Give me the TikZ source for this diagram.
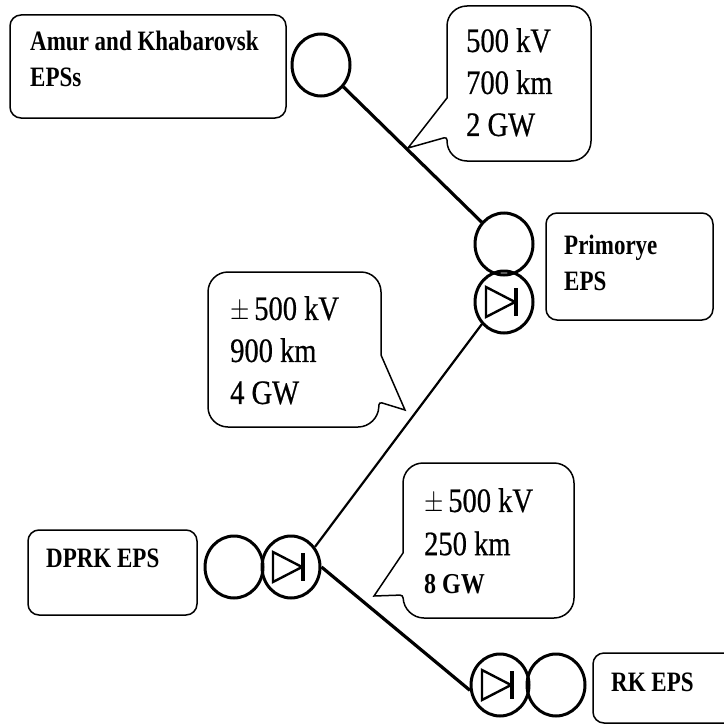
\documentclass[tikz,border=0pt]{standalone}
\usepackage{fontspec}
\setmainfont{Liberation Serif}
\newfontfamily\semibold[FakeBold=0.6]{Liberation Serif}
\usetikzlibrary{shapes.geometric}
\tikzset{
  x=1pt,y=-1pt,
  bus/.style={ellipse,draw,line width=3pt,minimum width=58pt,minimum height=62pt,inner sep=0pt},
  panel/.style={draw,line width=1.5pt,rounded corners=11pt},
  lbl/.style={anchor=north west,align=left,inner sep=0pt,font=\fontsize{23}{29}\selectfont\bfseries,yscale=1.22},
  big/.style={anchor=north west,align=left,inner sep=0pt,font=\fontsize{28.5}{35}\selectfont\semibold,yscale=1.2},
  heavy/.style={line width=3.2pt},
  light/.style={line width=2.2pt},
  diodebody/.style={line width=2.4pt},
  diodebar/.style={line width=3.6pt}
}
\newcommand{\diodeat}[1]{%
  \draw[diodebody] ([shift={(-18pt,15pt)}]#1.center) -- ([shift={(-18pt,-15pt)}]#1.center) -- ([shift={(11pt,0pt)}]#1.center) -- cycle;
  \draw[diodebar] ([shift={(12pt,14pt)}]#1.center) -- ([shift={(12pt,-14pt)}]#1.center);
}
\begin{document}
\begin{tikzpicture}
\useasboundingbox[fill=white] (0,0) rectangle (723,725);

% plain panels
\draw[panel] (10,15) rectangle (286,118);
\draw[panel] (546,213) rectangle (713,320);
\draw[panel] (28,530) rectangle (197,615);
\draw[panel] (740,653) -- (593,653) -- (593,723) -- (740,723);

% callouts
\draw[line width=1.5pt] (447,98)
  [rounded corners=20pt] -- (447,6) -- (591,6) -- (591,161) -- (447,161)
  [rounded corners=3pt] -- (447,137) [sharp corners] -- (408,148) -- cycle;
\draw[line width=1.5pt] (381,355)
  [rounded corners=20pt] -- (381,272) -- (208,272) -- (208,427) -- (378,427)
  [rounded corners=3pt] -- (379,402) [sharp corners] -- (405,410) -- cycle;
\draw[line width=1.5pt] (403,553)
  [rounded corners=20pt] -- (403,463) -- (574,463) -- (574,618) -- (404,618)
  [rounded corners=3pt] -- (403,595) [sharp corners] -- (374,596) -- cycle;

% stations
\node[bus] (amur) at (321,65) {};
\node[bus] (prim) at (504,244) {};
\node[bus] (primd) at (504,302) {};
\node[bus] (dprk) at (234,567) {};
\node[bus] (dprkd) at (291,567) {};
\node[bus] (rkd) at (500,685) {};
\node[bus] (rk) at (556,685) {};
\diodeat{primd}
\diodeat{dprkd}
\diodeat{rkd}

% lines
\draw[heavy] (amur) -- (prim);
\draw[light] (primd.225) -- (dprkd.40);
\draw[heavy] (dprkd.0) -- (rkd.190);

% text
\node[lbl] (tamur) at (30,31) {Amur and Khabarovsk\\EPSs};
\node[lbl] (tprim) at (564,235) {Primorye\\EPS};
\node[lbl] (tdprk) at (46,549) {DPRK EPS};
\node[lbl] (trk) at (611,673) {RK EPS};
\node[big] (ta) at (466,28) {500 kV\\700 km\\2 GW};
\node[big] (tb) at (230,296) {$\pm$\,500 kV\\900 km\\4 GW};
\node[big] (tc) at (424,488) {$\pm$\,500 kV\\[1pt]250 km\\[-3pt]{\rmfamily\bfseries\fontsize{24}{24}\selectfont 8 GW}};
\end{tikzpicture}
\end{document}
